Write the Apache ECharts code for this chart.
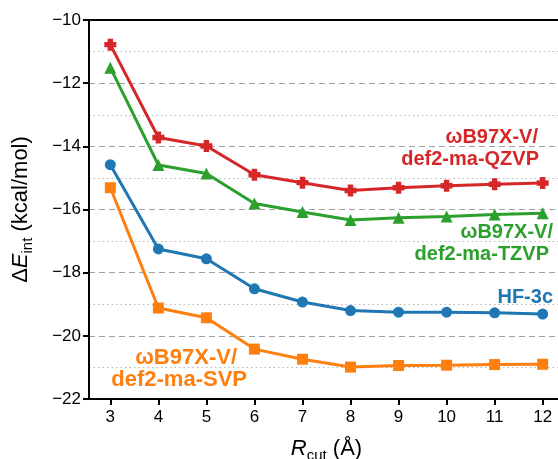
<!DOCTYPE html>
<html>
<head>
<meta charset="utf-8">
<script src="https://cdn.jsdelivr.net/npm/echarts@6/dist/echarts.min.js"></script>
<style>
html,body{margin:0;padding:0;background:#fff;}
#chart{width:558px;height:459px;}
</style>
</head>
<body>
<div id="chart"></div>
<script>
const rcut = [3, 4, 5, 6, 7, 8, 9, 10, 11, 12];
const qzvp = [-10.78, -13.72, -13.99, -14.90, -15.15, -15.40, -15.31, -15.25, -15.20, -15.16];
const tzvp = [-11.51, -14.59, -14.86, -15.81, -16.08, -16.33, -16.26, -16.22, -16.16, -16.12];
const hf3c = [-14.58, -17.25, -17.56, -18.51, -18.93, -19.20, -19.25, -19.25, -19.27, -19.31];
const svp  = [-15.31, -19.12, -19.43, -20.42, -20.74, -20.99, -20.94, -20.93, -20.91, -20.90];
const xTicks = [3, 4, 5, 6, 7, 8, 9, 10, 11, 12];
const yTicks = [-22, -20, -18, -16, -14, -12, -10];

const FONT = '"Liberation Sans", Arial, Helvetica, sans-serif';
const pair = (ys) => rcut.map((x, i) => [x, ys[i]]);
const plusPath = 'path://M-1.35,-3H1.35V-1.35H3V1.35H1.35V3H-1.35V1.35H-3V-1.35H-1.35Z';

function series(name, data, color, symbol, size) {
  return {
    name: name, type: 'line', data: pair(data),
    symbol: symbol, symbolSize: size, showSymbol: true,
    lineStyle: { color: color, width: 3 },
    itemStyle: { color: color, borderWidth: 0 },
    emphasis: { disabled: true }, animation: false, z: 5
  };
}

const chart = echarts.init(document.getElementById('chart'), null, { renderer: 'canvas' });
const annStyle = (text, color, size) => ({ text: text, fill: color, font: 'bold ' + size + 'px ' + FONT, align: 'right', verticalAlign: 'middle' });

chart.setOption({
  backgroundColor: '#fff',
  animation: false,
  grid: { left: 89, top: 20, width: 475, height: 379, outerBoundsMode: 'none', containLabel: false, show: false },
  xAxis: [{
    type: 'value', min: 2.556, max: 12.444,
    axisLine: { show: true, lineStyle: { color: '#000', width: 2 } },
    axisTick: { show: true, customValues: xTicks, length: 6, inside: false, lineStyle: { color: '#000', width: 2 } },
    axisLabel: { customValues: xTicks, color: '#000', fontSize: 17, fontFamily: FONT, margin: 10 },
    splitLine: { show: false },
    name: '{i|R}{s|cut}{n| (Å)}',
    nameLocation: 'middle', nameGap: 36,
    nameTextStyle: {
      color: '#000', fontFamily: FONT,
      rich: {
        i: { fontSize: 22, fontStyle: 'italic', fontFamily: FONT, color: '#000', lineHeight: 28, verticalAlign: 'middle' },
        s: { fontSize: 15, fontFamily: FONT, color: '#000', lineHeight: 15, verticalAlign: 'bottom' },
        n: { fontSize: 22, fontFamily: FONT, color: '#000', lineHeight: 28, verticalAlign: 'middle' }
      }
    }
  }, {
    type: 'value', position: 'top', min: 2.556, max: 12.444,
    axisLine: { show: true, lineStyle: { color: '#000', width: 2 } },
    axisTick: { show: false }, axisLabel: { show: false }, splitLine: { show: false }, z: 10
  }],
  yAxis: {
    type: 'value', min: -22, max: -10, interval: 2,
    axisLine: { show: true, lineStyle: { color: '#000', width: 2 } },
    axisTick: { show: true, length: 6, inside: false, lineStyle: { color: '#000', width: 2 } },
    axisLabel: { color: '#000', fontSize: 17, fontFamily: FONT, margin: 8, formatter: v => String(v).replace('-', '\u2212') },
    splitLine: { show: true, showMinLine: false, showMaxLine: false, lineStyle: { color: '#a0a0a0', width: 1.2, type: [6, 4] } },
    minorTick: { show: false, splitNumber: 2 },
    minorSplitLine: { show: true, lineStyle: { color: '#b8b8b8', width: 1.2, type: [1.5, 3] } },
    name: '{n|Δ}{i|E}{s|int}{n| (kcal/mol)}',
    nameLocation: 'middle', nameGap: 54, nameRotate: 90,
    nameTextStyle: {
      color: '#000', fontFamily: FONT, padding: [0, 0, 0, 0],
      rich: {
        i: { fontSize: 22, fontStyle: 'italic', fontFamily: FONT, color: '#000', lineHeight: 28, verticalAlign: 'middle' },
        s: { fontSize: 15, fontFamily: FONT, color: '#000', lineHeight: 15, verticalAlign: 'bottom' },
        n: { fontSize: 22, fontFamily: FONT, color: '#000', lineHeight: 28, verticalAlign: 'middle' }
      }
    }
  },
  series: [
    series('HF-3c', hf3c, '#1f77b4', 'circle', 11),
    series('ωB97X-V/def2-ma-SVP', svp, '#ff7f0e', 'rect', 11),
    series('ωB97X-V/def2-ma-TZVP', tzvp, '#2ca02c', 'triangle', 12),
    series('ωB97X-V/def2-ma-QZVP', qzvp, '#d62728', plusPath, 12)
  ],
  graphic: [
    { type: 'text', x: 538, y: 137, style: annStyle('ωB97X-V/', '#d62728', 20), z: 10 },
    { type: 'text', x: 539, y: 159, style: annStyle('def2-ma-QZVP', '#d62728', 20), z: 10 },
    { type: 'text', x: 553, y: 232, style: annStyle('ωB97X-V/', '#2ca02c', 20), z: 10 },
    { type: 'text', x: 549, y: 254, style: annStyle('def2-ma-TZVP', '#2ca02c', 20), z: 10 },
    { type: 'text', x: 553, y: 297, style: annStyle('HF-3c', '#1f77b4', 20), z: 10 },
    { type: 'text', x: 237, y: 358, style: annStyle('ωB97X-V/', '#ff7f0e', 22), z: 10 },
    { type: 'text', x: 247, y: 380, style: annStyle('def2-ma-SVP', '#ff7f0e', 22), z: 10 }
  ]
});
</script>
</body>
</html>
